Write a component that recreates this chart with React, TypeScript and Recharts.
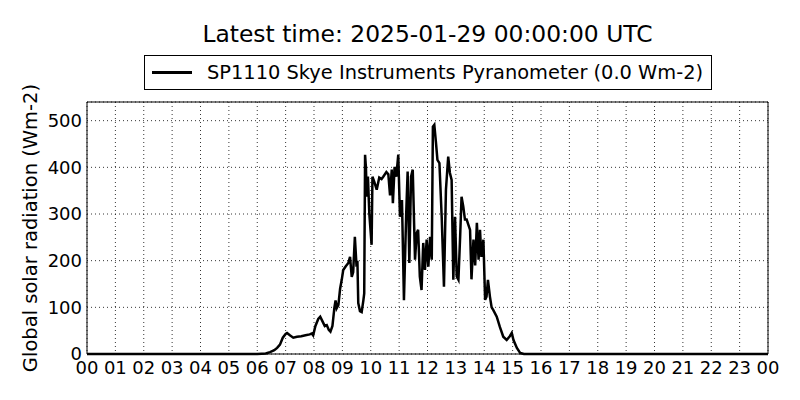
import React from 'react';
import {
  LineChart,
  Line,
  XAxis,
  YAxis,
  CartesianGrid,
  ReferenceArea,
} from 'recharts';

// hour of day (UTC) and global solar radiation (Wm-2)
const hours = [
  0, 6.0, 6.3, 6.45, 6.6, 6.7, 6.8, 6.9, 7.0, 7.05, 7.15, 7.27, 7.4, 7.55, 7.7, 7.85, 7.92, 7.97,
  8.05, 8.15, 8.22, 8.3, 8.38, 8.45, 8.52, 8.58, 8.65, 8.72, 8.76, 8.8, 8.86, 8.92, 8.98,
  9.03, 9.12, 9.21, 9.27, 9.33, 9.38, 9.44, 9.5, 9.53, 9.56, 9.62, 9.68, 9.74, 9.77, 9.8, 9.83,
  9.86, 9.9, 9.95, 10.03, 10.06, 10.12, 10.21, 10.3, 10.38, 10.44, 10.55, 10.62, 10.68, 10.74,
  10.78, 10.84, 10.9, 10.97, 11.03, 11.1, 11.17, 11.25, 11.3, 11.36, 11.42, 11.48, 11.56, 11.62,
  11.67, 11.73, 11.79, 11.85, 11.91, 11.97, 12.03, 12.09, 12.15, 12.19, 12.24, 12.3, 12.35,
  12.42, 12.5, 12.58, 12.65, 12.73, 12.79, 12.85, 12.91, 12.97, 13.03, 13.09, 13.15, 13.2,
  13.26, 13.32, 13.38, 13.5, 13.55, 13.62, 13.68, 13.74, 13.8, 13.85, 13.9, 13.97, 14.03,
  14.08, 14.13, 14.2, 14.26, 14.32, 14.44, 14.55, 14.67, 14.79, 14.9, 14.97, 15.03, 15.15,
  15.27, 15.4, 24,
];

const radiation = [
  0, 0, 1, 4, 8, 13, 20, 35, 43, 45, 40, 35, 37, 38, 40, 42, 44, 40,
  60, 75, 80, 70, 60, 62, 52, 48, 60, 100, 115, 98, 105, 140, 160,
  180, 188, 195, 208, 165, 175, 251, 187, 200, 109, 92, 90, 115, 130, 427, 400,
  337, 380, 300, 234, 380, 370, 352, 378, 375, 380, 390, 385, 340, 395,
  323, 401, 380, 427, 294, 330, 115, 302, 391, 195, 380, 395, 202, 259,
  266, 166, 137, 238, 180, 245, 187, 251, 202, 487, 491, 452, 416,
  409, 294, 144, 352, 423, 388, 373, 159, 294, 166, 159, 251, 337,
  316, 288, 288, 266, 160, 245, 190, 281, 202, 266, 208, 245, 116,
  123, 159, 123, 100, 94, 80, 58, 37, 30, 38, 45, 30, 13,
  2, 0, 0,
];

const hourTicks = [0, 1, 2, 3, 4, 5, 6, 7, 8, 9, 10, 11, 12, 13, 14, 15, 16, 17, 18, 19, 20, 21, 22, 23, 24];
const radiationTicks = [0, 100, 200, 300, 400, 500];

const seriesName = 'SP1110 Skye Instruments Pyranometer (0.0 Wm-2)';
const title = 'Latest time: 2025-01-29 00:00:00 UTC';

const data = hours.map((t, i) => ({ t, v: radiation[i] }));

const font = '"DejaVu Sans", sans-serif';

export default function App() {
  return (
    <div style={{ position: 'absolute', left: 0, top: 0, width: 800, height: 400, background: '#fff', fontFamily: font }}>
      <div style={{ position: 'absolute', left: 87, width: 681, top: 19, textAlign: 'center', fontSize: 23.4, lineHeight: '30px', color: '#000' }}>
        {title}
      </div>
      <div
        style={{
          position: 'absolute',
          left: 144,
          top: 55,
          width: 566,
          height: 33,
          border: '1px solid #000',
          display: 'flex',
          alignItems: 'center',
          fontSize: 19.4,
          color: '#000',
          whiteSpace: 'nowrap',
        }}
      >
        <div style={{ width: 40, height: 3, background: '#000', marginLeft: 7, marginRight: 15 }} />
        <span>{seriesName}</span>
      </div>
      <div
        style={{
          position: 'absolute',
          left: 30,
          top: 228,
          transform: 'translate(-50%, -50%) rotate(-90deg)',
          whiteSpace: 'nowrap',
          fontSize: 19.5,
          color: '#000',
        }}
      >
        Global solar radiation (Wm-2)
      </div>
      <LineChart
        width={800}
        height={400}
        data={data}
        margin={{ top: 102, right: 32, bottom: 16, left: 27 }}
        style={{ position: 'absolute', left: 0, top: 0 }}
      >
        <CartesianGrid stroke="#000" strokeDasharray="1 3" strokeWidth={0.8} />
        <XAxis
          dataKey="t"
          type="number"
          domain={[0, 24]}
          ticks={hourTicks}
          interval={0}
          tickFormatter={(h: number) => String(h % 24).padStart(2, '0')}
          tickLine={false}
          axisLine={false}
          tickSize={4}
          tickMargin={3}
          height={30}
          tick={{ fill: '#000', fontSize: 18, fontFamily: font }}
        />
        <YAxis
          type="number"
          domain={[0, 540]}
          ticks={radiationTicks}
          interval={0}
          tickLine={false}
          axisLine={false}
          tickSize={5}
          tickMargin={0}
          width={60}
          tick={{ fill: '#000', fontSize: 18, fontFamily: font }}
        />
        <ReferenceArea x1={0} x2={24} y1={0} y2={540} fill="none" stroke="#000" strokeWidth={1} />
        <Line
          dataKey="v"
          type="linear"
          stroke="#000"
          strokeWidth={2.5}
          dot={false}
          isAnimationActive={false}
        />
      </LineChart>
    </div>
  );
}
